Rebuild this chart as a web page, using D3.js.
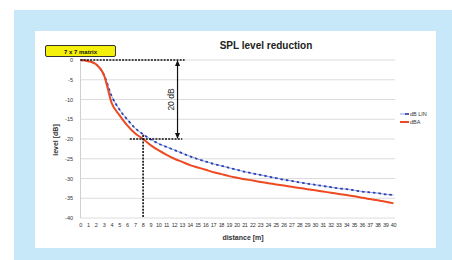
<!DOCTYPE html>
<html>
<head>
<meta charset="utf-8">
<script src="https://cdn.jsdelivr.net/npm/d3@7"></script>
<style>
  body { margin: 0; background: #fff; }
  svg { display: block; font-family: "Liberation Sans", Arial, sans-serif; }
</style>
</head>
<body>
<div id="graph"></div>
<script>
// distances in metres, 0..40
var distance = d3.range(0, 41);
// level reduction, dB LIN (blue dashed)
var dbLin = [0, -0.3, -1.1, -3.8, -9.2, -12.6, -15.1, -17.3, -18.8, -20.1,
  -21.2, -22.0, -22.8, -23.6, -24.4, -25.1, -25.7, -26.3, -26.8, -27.3,
  -27.8, -28.3, -28.7, -29.1, -29.5, -29.9, -30.3, -30.6, -31.0, -31.3,
  -31.6, -31.9, -32.2, -32.5, -32.7, -33.0, -33.3, -33.5, -33.7, -34.0, -34.2];
// level reduction, dBA (red)
var dbA = [0, -0.3, -1.1, -3.8, -11.0, -14.0, -16.6, -18.6, -20.0, -21.6,
  -22.9, -24.0, -25.0, -25.8, -26.6, -27.2, -27.8, -28.4, -28.9, -29.4,
  -29.8, -30.2, -30.5, -30.9, -31.2, -31.5, -31.8, -32.1, -32.4, -32.7,
  -33.0, -33.3, -33.6, -33.9, -34.2, -34.5, -34.9, -35.2, -35.5, -35.9, -36.3];
var yTicks = [0, -5, -10, -15, -20, -25, -30, -35, -40];
var seriesNames = ["dB LIN", "dBA"];

var width = 452, height = 260;
var svg = d3.select("#graph").append("svg")
    .attr("width", width)
    .attr("height", height);

// light blue frame + white panel
svg.append("rect").attr("x", 14).attr("y", 10).attr("width", width - 14).attr("height", height - 10)
    .attr("fill", "#c6e8f8");
svg.append("rect").attr("x", 35).attr("y", 31).attr("width", 401).attr("height", 217)
    .attr("fill", "#fff");

var x = d3.scaleLinear().domain([0, 40]).range([80.5, 393.5]);
var y = d3.scaleLinear().domain([0, -40]).range([60, 218]);

// gridlines
svg.append("g").selectAll("line")
    .data(yTicks)
    .enter().append("line")
    .attr("x1", x(0)).attr("x2", 395)
    .attr("y1", function(d) { return y(d); })
    .attr("y2", function(d) { return y(d); })
    .style("stroke", "#dcdcdc")
    .style("stroke-width", 1);
svg.append("line")
    .attr("x1", x(0)).attr("x2", x(0)).attr("y1", y(0)).attr("y2", y(-40))
    .style("stroke", "#d0d0d0");

// y tick labels
svg.append("g").selectAll("text")
    .data(yTicks)
    .enter().append("text")
    .attr("x", 73)
    .attr("y", function(d) { return y(d) + 2; })
    .attr("text-anchor", "end")
    .style("font-size", "5.5px")
    .style("fill", "#333")
    .text(function(d) { return d; });

// x tick labels
svg.append("g").selectAll("text")
    .data(distance)
    .enter().append("text")
    .attr("x", function(d) { return x(d); })
    .attr("y", 227)
    .attr("text-anchor", "middle")
    .style("font-size", "5.5px")
    .style("letter-spacing", "-0.4px")
    .style("fill", "#333")
    .text(function(d) { return d; });

// axis titles
svg.append("text")
    .attr("x", 243).attr("y", 240)
    .attr("text-anchor", "middle")
    .style("font-size", "7px").style("font-weight", "bold").style("fill", "#333")
    .text("distance [m]");
svg.append("text")
    .attr("transform", "translate(58,140) rotate(-90)")
    .attr("text-anchor", "middle")
    .style("font-size", "7px").style("font-weight", "bold").style("fill", "#333")
    .text("level [dB]");

// title
svg.append("text")
    .attr("x", 266).attr("y", 49)
    .attr("text-anchor", "middle")
    .style("font-size", "10px").style("font-weight", "bold").style("fill", "#222")
    .text("SPL level reduction");

// yellow label box
svg.append("rect")
    .attr("x", 45.5).attr("y", 45.5).attr("width", 70).attr("height", 11).attr("rx", 1.5)
    .attr("fill", "#f4f00c").attr("stroke", "#333").attr("stroke-width", 1);
svg.append("text")
    .attr("x", 80.5).attr("y", 53.5)
    .attr("text-anchor", "middle")
    .style("font-size", "6px").style("font-weight", "bold").style("fill", "#111")
    .text("7 x 7 matrix");

// lines
var line = d3.line()
    .x(function(d, i) { return x(distance[i]); })
    .y(function(d) { return y(d); })
    .curve(d3.curveMonotoneX);

svg.append("path").datum(dbLin)
    .attr("d", line)
    .attr("fill", "none")
    .style("stroke", "#8fa2e6")
    .style("stroke-width", 1);
svg.append("path").datum(dbLin)
    .attr("d", line)
    .attr("fill", "none")
    .style("stroke", "#2b3fb0")
    .style("stroke-width", 1.8)
    .style("stroke-dasharray", "2.5,3");

// red drawn on top so the shared start hides the blue
svg.append("path").datum(dbA)
    .attr("d", line)
    .attr("fill", "none")
    .style("stroke", "#ee4a22")
    .style("stroke-width", 2);

// annotations (dashed helper lines + 20 dB arrow)
var dash = { "stroke": "#111", "stroke-width": 1.6, "stroke-dasharray": "2,1.2" };
function dashed(x1, y1, x2, y2) {
    var l = svg.append("line").attr("x1", x1).attr("y1", y1).attr("x2", x2).attr("y2", y2);
    Object.keys(dash).forEach(function(k) { l.style(k, dash[k]); });
}
dashed(x(0), y(0), x(13.3), y(0));
dashed(x(6.3), y(-20), x(13), y(-20));
dashed(x(8), y(-19), x(8), y(-40));

var ax = x(12.4);
svg.append("line")
    .attr("x1", ax).attr("x2", ax).attr("y1", y(0) + 4).attr("y2", y(-20) - 4)
    .style("stroke", "#111").style("stroke-width", 1.2);
svg.append("path")
    .attr("d", "M" + ax + "," + y(0) + "l-2.5,6h5z")
    .attr("fill", "#111");
svg.append("path")
    .attr("d", "M" + ax + "," + y(-20) + "l-2.5,-6h5z")
    .attr("fill", "#111");
svg.append("text")
    .attr("transform", "translate(" + (ax - 4) + "," + y(-10) + ") rotate(-90)")
    .attr("text-anchor", "middle")
    .style("font-size", "8.5px").style("fill", "#222")
    .text("20 dB");

// legend
var legend = svg.append("g").attr("transform", "translate(400,114)");
seriesNames.forEach(function(name, i) {
    var g = legend.append("g").attr("transform", "translate(0," + (i * 8) + ")");
    if (i === 0) {
        g.append("line").attr("x1", 0).attr("x2", 9).attr("y1", 0).attr("y2", 0)
            .style("stroke", "#8fa2e6").style("stroke-width", 1);
        g.append("line").attr("x1", 5).attr("x2", 9).attr("y1", 0).attr("y2", 0)
            .style("stroke", "#2b3fb0").style("stroke-width", 1.6);
    } else {
        g.append("line").attr("x1", 0).attr("x2", 9).attr("y1", 0).attr("y2", 0)
            .style("stroke", "#ee4a22").style("stroke-width", 2);
    }
    g.append("text").attr("x", 10).attr("y", 2)
        .style("font-size", "5.5px").style("fill", "#333")
        .text(name);
});
</script>
</body>
</html>
